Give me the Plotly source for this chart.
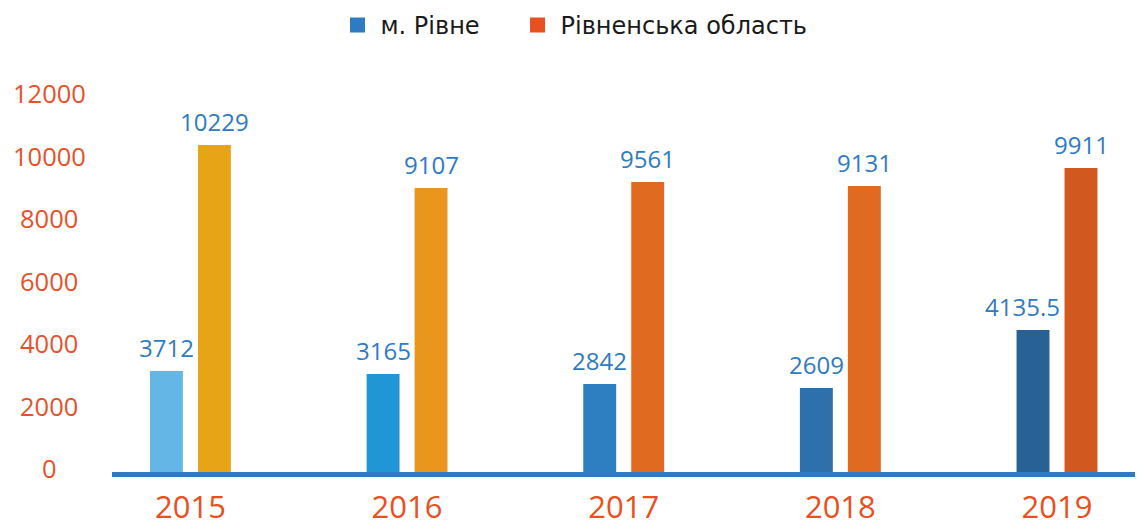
import plotly.graph_objects as go

years = ["2015", "2016", "2017", "2018", "2019"]
city_values = [3232, 3136, 2816, 2688, 4544]
region_values = [10464, 9088, 9280, 9152, 9728]
city_labels = ["3712", "3165", "2842", "2609", "4135.5"]
region_labels = ["10229", "9107", "9561", "9131", "9911"]
city_colors = ["#63b6e6", "#2097d4", "#2e7ec2", "#2e70ac", "#286196"]
region_colors = ["#e8a417", "#e8961c", "#df6a20", "#e06b20", "#d1581e"]
y_ticks = [0, 2000, 4000, 6000, 8000, 10000, 12000]
series_names = ["м. Рівне", "Рівненська область"]
legend_colors = ["#2e7bc4", "#e8501f"]

FONT = "Open Sans"
LABEL_BLUE = "#2e7bc4"
TICK_RED = "#e8502a"

fig = go.Figure()
fig.add_trace(go.Bar(x=years, y=city_values, marker=dict(color=city_colors, line_width=0),
                     showlegend=False, name=series_names[0]))
fig.add_trace(go.Bar(x=years, y=region_values, marker=dict(color=region_colors, line_width=0),
                     showlegend=False, name=series_names[1]))

# legend-only entries (one legend each, so they can be placed independently)
for nm, col, lg in zip(series_names, legend_colors, ["legend", "legend2"]):
    fig.add_trace(go.Scatter(x=[None], y=[None], mode="markers", name=nm, legend=lg,
                             marker=dict(symbol="square", size=15, color=col)))

ann = []
for i, yr in enumerate(years):
    ann.append(dict(x=i, y=city_values[i], xref="x", yref="y", text=city_labels[i],
                    showarrow=False, xshift=-24 - (11 if len(city_labels[i]) > 5 else 0),
                    yshift=24, yanchor="middle",
                    font=dict(family=FONT, size=24, color=LABEL_BLUE)))
    ann.append(dict(x=i, y=region_values[i], xref="x", yref="y", text=region_labels[i],
                    showarrow=False, xshift=24, yshift=24, yanchor="middle",
                    font=dict(family=FONT, size=24, color=LABEL_BLUE)))
for t in y_ticks:
    ann.append(dict(x=-0.0611, y=t, xref="paper", yref="y", text=str(t), showarrow=False,
                    xanchor="center", yanchor="middle", yshift=4,
                    font=dict(family=FONT, size=25.5, color=TICK_RED)))

legend_font = dict(family="DejaVu Sans", size=24, color="#1a1a1a")

# page body has an 8px margin: figure is sized/offset to compensate
fig.update_layout(
    width=1135, height=513,
    margin=dict(l=104, r=8, t=64, b=49, autoexpand=False),
    paper_bgcolor="white", plot_bgcolor="white",
    barmode="group", bargap=0.557, bargroupgap=0.314,
    font=dict(family=FONT, color="#222222"),
    legend=dict(orientation="h", x=0.2175, xanchor="left", y=0.966, yanchor="middle",
                yref="container", itemwidth=36, font=legend_font),
    legend2=dict(orientation="h", x=0.3935, xanchor="left", y=0.966, yanchor="middle",
                 yref="container", itemwidth=36, font=legend_font),
    annotations=ann,
    xaxis=dict(type="category", range=[-0.362, 4.36], showline=True, linecolor="#2e7bc4",
               linewidth=5, showgrid=False, zeroline=False, ticks="", ticklabelstandoff=4,
               tickfont=dict(family=FONT, size=31, color="#e8501f")),
    yaxis=dict(range=[0, 12800], showticklabels=False, showgrid=False, zeroline=False),
)

fig.write_html("out.html")
